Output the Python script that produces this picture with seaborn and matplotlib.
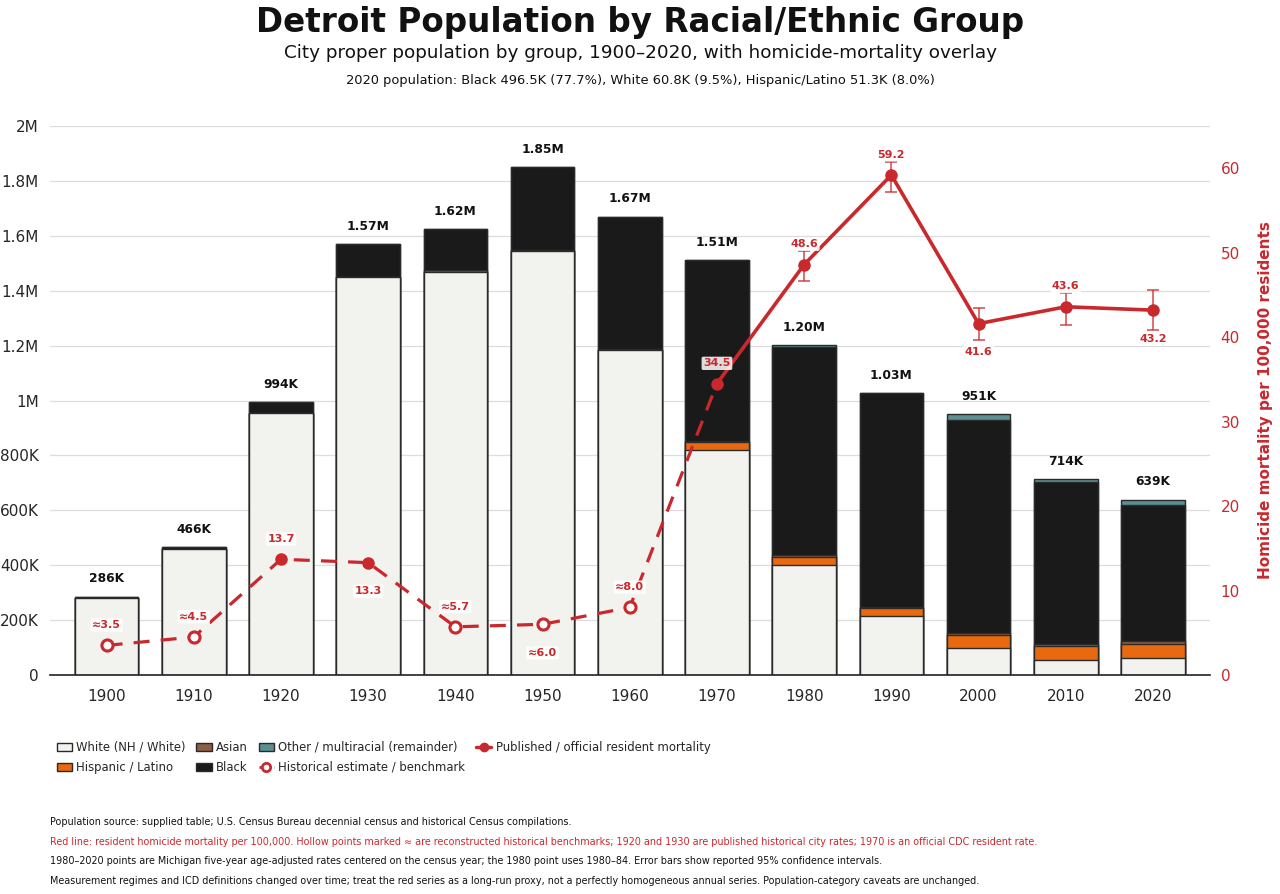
import numpy as np
import pandas as pd
import seaborn as sns
import matplotlib.pyplot as plt
from matplotlib.patches import Patch
from matplotlib.lines import Line2D

# population by group (thousands), stacked bottom -> top
years = ['1900', '1910', '1920', '1930', '1940', '1950', '1960',
         '1970', '1980', '1990', '2000', '2010', '2020']
white = [281.6, 460.0, 952.8, 1448.6, 1469.3, 1546.1, 1185.0,
         820.0, 402.0, 216.6, 99.9, 55.6, 60.8]
hispanic = [0, 0, 0, 0, 0, 0, 0, 28.0, 28.5, 28.5, 47.2, 48.7, 51.3]
asian = [0, 0, 0, 0, 5.0, 3.0, 3.0, 3.0, 6.6, 3.2, 6.0, 7.4, 9.9]
black = [4.1, 5.7, 40.8, 120.1, 149.1, 300.5, 482.2,
         660.4, 758.9, 777.9, 775.8, 590.2, 496.5]
other = [0, 0, 0, 0, 0, 0, 0, 0, 7.3, 0, 22.4, 11.9, 20.6]

# homicide mortality per 100k
rate = [3.5, 4.5, 13.7, 13.3, 5.7, 6.0, 8.0, 34.5, 48.6, 59.2, 41.6, 43.6, 43.2]
estimate = [True, True, False, False, True, True, True,
            False, False, False, False, False, False]
ci_low = [None] * 8 + [46.7, 57.2, 39.7, 41.5, 40.8]
ci_high = [None] * 8 + [50.2, 60.8, 43.5, 45.2, 45.6]
label_below = [False, False, False, True, False, True, False,
               False, False, False, True, False, True]

RED = '#c9282d'
groups = [('White (NH / White)', white, '#f2f2ee'),
          ('Hispanic / Latino', hispanic, '#e8690f'),
          ('Asian', asian, '#8b5e45'),
          ('Black', black, '#1a1a1a'),
          ('Other / multiracial (remainder)', other, '#5b8f90')]

df = pd.DataFrame({'year': years})
cum = np.zeros(len(years))
for name, vals, col in groups:
    cum = cum + np.array(vals) * 1000
    df[name] = cum.copy()

sns.set_theme(style='white')
plt.rcParams['font.family'] = ['DejaVu Sans']

fig = plt.figure(figsize=(12.8, 8.94), dpi=100)
ax = fig.add_axes([0.039, 0.245, 0.906, 0.614])

# draw from the top layer down so each shorter bar covers the one below
for name, vals, col in reversed(groups):
    sns.barplot(data=df, x='year', y=name, color=col, ax=ax, width=0.73,
                edgecolor='#2a2a2a', linewidth=1.0, saturation=1)

ax.set_ylim(0, 2_000_000)
ax.set_xlim(-0.65, 12.65)
ax.set_xlabel('')
ax.set_ylabel('')
yt = np.arange(0, 2_000_001, 200_000)
ax.set_yticks(yt)


def fmt_pop(v):
    if v == 0:
        return '0'
    if v >= 1e6:
        return f'{v / 1e6:g}M'
    return f'{v / 1e3:.0f}K'


ax.set_yticklabels([fmt_pop(v) for v in yt], fontsize=11)
ax.tick_params(axis='x', labelsize=11, length=0, pad=10)
ax.tick_params(axis='y', length=0, pad=8)
ax.grid(axis='y', color='#dddddd', linewidth=0.9)
ax.set_axisbelow(True)
for s in ['top', 'right', 'left']:
    ax.spines[s].set_visible(False)
ax.spines['bottom'].set_color('#222222')
ax.spines['bottom'].set_linewidth(1.2)

totals = df[groups[-1][0]].values
for i, t in enumerate(totals):
    lab = f'{t / 1e6:.2f}M' if t >= 1e6 else f'{t / 1e3:.0f}K'
    ax.annotate(lab, (i, t), xytext=(0, 8), textcoords='offset points',
                ha='center', va='bottom', fontsize=8.8, fontweight='bold',
                color='#111111')

# homicide overlay
ax2 = ax.twinx()
ax2.set_ylim(0, 65)
ax2.set_position(ax.get_position())
xs = np.arange(len(years))
rd = pd.DataFrame({'x': xs, 'rate': rate})
sns.lineplot(data=rd.iloc[:8], x='x', y='rate', ax=ax2, color=RED,
             linewidth=2.3, linestyle=(0, (5, 3.5)))
sns.lineplot(data=rd.iloc[7:], x='x', y='rate', ax=ax2, color=RED,
             linewidth=2.6)
err_x = xs[8:]
err_y = np.array(rate[8:])
lo = err_y - np.array(ci_low[8:])
hi = np.array(ci_high[8:]) - err_y
ax2.errorbar(err_x, err_y, yerr=[lo, hi], fmt='none', ecolor=RED,
             elinewidth=1.1, capsize=4, capthick=1.1, alpha=0.85)
for i in xs:
    if estimate[i]:
        ax2.plot(i, rate[i], 'o', ms=8, mfc='white', mec=RED, mew=2.2,
                 zorder=5)
    else:
        ax2.plot(i, rate[i], 'o', ms=8, color=RED, zorder=5)
    txt = ('≈' if estimate[i] else '') + f'{rate[i]:.1f}'
    off = -17 if label_below[i] else 11
    ax2.annotate(txt, (i, rate[i]), xytext=(0, off),
                 textcoords='offset points', ha='center',
                 va='top' if label_below[i] else 'bottom',
                 fontsize=8, fontweight='bold', color=RED,
                 bbox=dict(boxstyle='round,pad=0.15', fc='white',
                           ec='none', alpha=0.85), zorder=6)

ax2.set_yticks([0, 10, 20, 30, 40, 50, 60])
ax2.tick_params(axis='y', colors=RED, labelsize=11, length=0, pad=8)
ax2.set_ylabel('Homicide mortality per 100,000 residents', color=RED,
               fontsize=11, fontweight='bold', labelpad=13)
ax2.set_xlabel('')
ax2.grid(False)
for s in ['top', 'right', 'left', 'bottom']:
    ax2.spines[s].set_visible(False)

# titles
fig.text(0.5, 0.975, 'Detroit Population by Racial/Ethnic Group',
         ha='center', va='center', fontsize=23.5, fontweight='bold',
         color='#111111')
fig.text(0.5, 0.941,
         'City proper population by group, 1900–2020, with homicide-mortality overlay',
         ha='center', va='center', fontsize=13.25, color='#111111')
fig.text(0.5, 0.910,
         '2020 population: Black 496.5K (77.7%), White 60.8K (9.5%), Hispanic/Latino 51.3K (8.0%)',
         ha='center', va='center', fontsize=9.4, color='#111111')

# legend
h = [Patch(fc=c, ec='#2a2a2a', label=n) for n, v, c in groups]
h_est = Line2D([], [], color=RED, lw=2, ls='--', marker='o', ms=6,
               mfc='white', mec=RED, mew=2, label='Historical estimate / benchmark')
h_pub = Line2D([], [], color=RED, lw=2.5, marker='o', ms=6,
               label='Published / official resident mortality')
handles = [h[0], h[1], h[2], h[3], h[4], h_est, h_pub]
fig.legend(handles=handles, loc='upper left', bbox_to_anchor=(0.036, 0.183),
           ncol=4, frameon=False, fontsize=8.4, handlelength=1.3,
           handletextpad=0.4, columnspacing=0.9, labelspacing=0.6)

notes = [
    ('Population source: supplied table; U.S. Census Bureau decennial census and historical Census compilations.', '#111111'),
    ('Red line: resident homicide mortality per 100,000. Hollow points marked ≈ are reconstructed historical benchmarks; 1920 and 1930 are published historical city rates; 1970 is an official CDC resident rate.', RED),
    ('1980–2020 points are Michigan five-year age-adjusted rates centered on the census year; the 1980 point uses 1980–84. Error bars show reported 95% confidence intervals.', '#111111'),
    ('Measurement regimes and ICD definitions changed over time; treat the red series as a long-run proxy, not a perfectly homogeneous annual series. Population-category caveats are unchanged.', '#111111'),
]
for k, (t, c) in enumerate(notes):
    fig.text(0.039, 0.0805 - k * 0.0218, t, ha='left', va='center',
             fontsize=6.9, color=c)

fig.savefig('out.png', dpi=100)
